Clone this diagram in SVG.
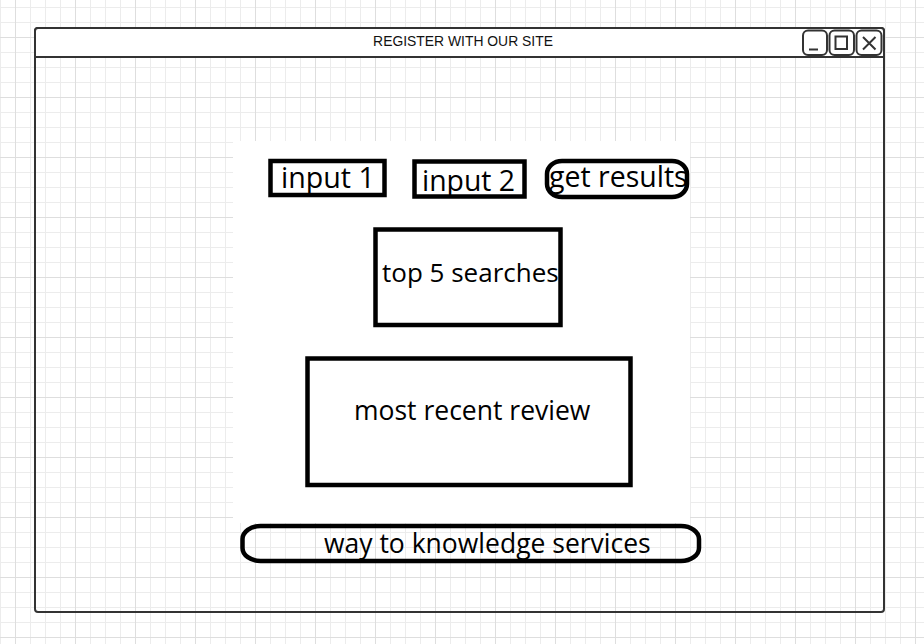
<svg xmlns="http://www.w3.org/2000/svg" width="924" height="644" viewBox="0 0 924 644">
  <defs>
    <pattern id="grid" patternUnits="userSpaceOnUse" x="15" y="37" width="60" height="60">
      <rect x="0" y="0" width="60" height="60" fill="#ffffff"/>
      <g fill="#ececec">
        <rect x="15" y="0" width="1" height="60"/>
        <rect x="30" y="0" width="1" height="60"/>
        <rect x="45" y="0" width="1" height="60"/>
        <rect x="0" y="15" width="60" height="1"/>
        <rect x="0" y="30" width="60" height="1"/>
        <rect x="0" y="45" width="60" height="1"/>
      </g>
      <g fill="#dedede">
        <rect x="0" y="0" width="1" height="60"/>
        <rect x="0" y="0" width="60" height="1"/>
      </g>
    </pattern>
    <style>
      .win { fill: none; stroke: #333333; stroke-width: 2; }
      .btn { fill: #ffffff; stroke: #333333; stroke-width: 2; }
      .box { fill: none; stroke: #000000; stroke-width: 4.5; }
      .lbl { font-family: "Open Sans", "Noto Sans", sans-serif; fill: #000000; }
      .title { font-family: "Liberation Sans", Arial, sans-serif; font-size: 13.9px; fill: #111111; }
    </style>
  </defs>

  <rect x="0" y="0" width="924" height="644" fill="url(#grid)"/>

  <g id="window">
    <rect x="35" y="28" width="849" height="584" rx="3" class="win"/>
    <path d="M35 57 V31 Q35 28 38 28 H881 Q884 28 884 31 V57 Z" fill="#ffffff" stroke="#333333" stroke-width="2"/>
    <text x="463" y="46" text-anchor="middle" class="title">REGISTER WITH OUR SITE</text>
    <g id="btn-min">
      <rect x="803" y="30.5" width="24" height="24.5" rx="5" class="btn"/>
      <line x1="809" y1="49.5" x2="818" y2="49.5" stroke="#333333" stroke-width="2"/>
    </g>
    <g id="btn-max">
      <rect x="829.5" y="30.5" width="24.5" height="24.5" rx="5" class="btn"/>
      <rect x="835.5" y="36.5" width="11.5" height="12.5" fill="none" stroke="#333333" stroke-width="2"/>
    </g>
    <g id="btn-close">
      <rect x="856.5" y="30.5" width="25" height="24.5" rx="5" class="btn"/>
      <path d="M863 37 L875.5 49.5 M875.5 37 L863 49.5" stroke="#333333" stroke-width="2" fill="none"/>
    </g>
  </g>

  <rect id="canvas-area" x="233" y="141" width="457" height="382" fill="#ffffff"/>

  <g id="connectors"></g>

  <g id="input1">
    <rect x="270.5" y="161" width="114" height="34" class="box" stroke-width="4"/>
    <text x="281" y="188" class="lbl" font-size="28.6">input 1</text>
  </g>

  <g id="input2">
    <rect x="414.5" y="161.5" width="110" height="35" class="box" stroke-width="4"/>
    <text x="422" y="191" class="lbl" font-size="28.4">input 2</text>
  </g>

  <g id="get-results">
    <text x="549" y="187" class="lbl" font-size="28.5">get results</text>
    <rect x="547" y="161" width="140" height="36" rx="15" ry="13" class="box"/>
  </g>

  <g id="top5">
    <rect x="375.5" y="229.5" width="185" height="95.5" class="box" stroke-width="5"/>
    <text x="382" y="282" class="lbl" font-size="26">top 5 searches</text>
  </g>

  <g id="recent-review">
    <rect x="307.5" y="358.5" width="323" height="126.5" class="box" stroke-width="5"/>
    <text x="354" y="420" class="lbl" font-size="26.5">most recent review</text>
  </g>

  <g id="knowledge">
    <rect x="242.5" y="526" width="456.5" height="35" rx="18" ry="13" class="box"/>
    <text x="324" y="553" class="lbl" font-size="26.5">way to knowledge services</text>
  </g>
</svg>
